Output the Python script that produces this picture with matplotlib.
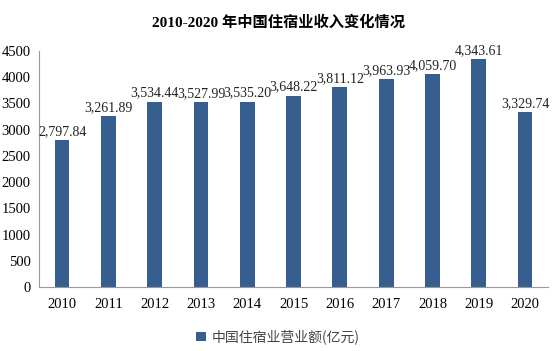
import matplotlib
matplotlib.use("Agg")
import matplotlib.pyplot as plt

years = ["2010", "2011", "2012", "2013", "2014", "2015", "2016", "2017", "2018", "2019", "2020"]
values = [2797.84, 3261.89, 3534.44, 3527.99, 3535.20, 3648.22, 3811.12, 3963.93, 4059.70, 4343.61, 3329.74]
yticks = [0, 500, 1000, 1500, 2000, 2500, 3000, 3500, 4000, 4500]
series_name = "中国住宿业营业额(亿元)"
title = "2010-2020 年中国住宿业收入变化情况"

serif = ["Liberation Serif", "Noto Sans CJK SC"]
cjk = ["Noto Sans CJK SC", "DejaVu Sans"]
color = "#355E8F"

fig = plt.figure(figsize=(5.56, 3.51), dpi=100)
ax = fig.add_axes([0.07, 0.182, 0.916, 0.673])
x = list(range(len(years)))
bars = ax.bar(x, values, width=0.32, color=color, label=series_name, zorder=2)
for xi, v in zip(x, values):
    ax.text(xi, v + 40, f"{v:,.2f}", ha="center", va="bottom", fontsize=10,
            family=serif, color="#222222")
ax.set_ylim(0, 4500)
ax.set_xlim(-0.5, len(years) - 0.5)
ax.set_yticks(yticks)
ax.set_yticklabels([str(t) for t in yticks], family=serif, fontsize=10.5)
ax.set_xticks(x)
ax.set_xticklabels(years, family=serif, fontsize=10.5)
ax.tick_params(axis="x", length=0, pad=8)
ax.tick_params(axis="y", length=0, pad=6)
for s in ["top", "right"]:
    ax.spines[s].set_visible(False)
ax.spines["left"].set_color("#999999")
ax.spines["bottom"].set_color("#999999")
fig.text(0.5, 0.935, title, ha="center", va="center", fontsize=11,
         fontweight="bold", family=["Liberation Serif", "Noto Sans CJK SC"])
leg = fig.legend(handles=[bars], labels=[series_name], loc="center", bbox_to_anchor=(0.5, 0.04),
           frameon=False, prop={"family": cjk, "size": 10}, handlelength=0.7, handleheight=0.7,
           handletextpad=0.4)
for t in leg.get_texts():
    t.set_color("#444444")
fig.savefig("out.png", dpi=100)
